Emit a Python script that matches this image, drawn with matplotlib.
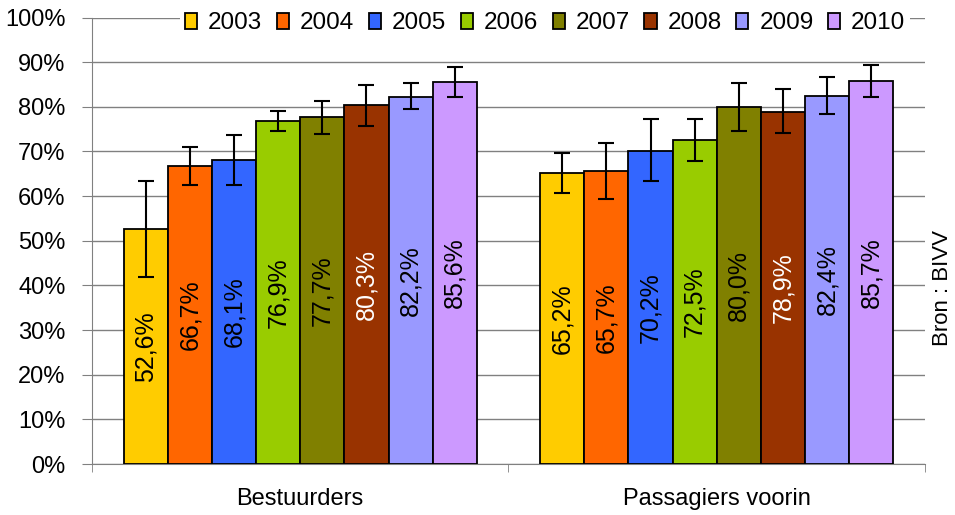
import matplotlib
matplotlib.use('Agg')
import matplotlib.pyplot as plt
import numpy as np

plt.rcParams['font.family'] = ['Liberation Sans', 'DejaVu Sans']

categories = ["Bestuurders", "Passagiers voorin"]
years = ["2003", "2004", "2005", "2006", "2007", "2008", "2009", "2010"]
colors = ["#FFCC00", "#FF6600", "#3366FF", "#99CC00", "#808000", "#993300", "#9999FF", "#CC99FF"]
label_colors = ["black", "black", "black", "black", "black", "white", "black", "black"]

# percentages per year: [Bestuurders, Passagiers voorin]
values = {
    "2003": [52.6, 65.2],
    "2004": [66.7, 65.7],
    "2005": [68.1, 70.2],
    "2006": [76.9, 72.5],
    "2007": [77.7, 80.0],
    "2008": [80.3, 78.9],
    "2009": [82.2, 82.4],
    "2010": [85.6, 85.7],
}
# confidence interval bounds
lower = {
    "2003": [41.8, 60.6],
    "2004": [62.4, 59.3],
    "2005": [62.4, 63.3],
    "2006": [74.5, 67.8],
    "2007": [74.0, 74.5],
    "2008": [75.8, 74.1],
    "2009": [79.4, 78.5],
    "2010": [82.1, 82.1],
}
upper = {
    "2003": [63.3, 69.6],
    "2004": [70.9, 71.8],
    "2005": [73.6, 77.2],
    "2006": [79.0, 77.2],
    "2007": [81.2, 85.3],
    "2008": [84.8, 83.9],
    "2009": [85.3, 86.6],
    "2010": [88.9, 89.3],
}

fig = plt.figure(figsize=(9.55, 5.15), dpi=100)
ax = fig.add_axes([0.0963, 0.099, 0.8723, 0.867])

x = np.arange(len(categories))
bw = 0.106
n = len(years)
for i, y in enumerate(years):
    pos = x + (i - (n - 1) / 2) * bw
    v = np.array(values[y])
    err = [v - np.array(lower[y]), np.array(upper[y]) - v]
    bars = ax.bar(pos, v, bw, color=colors[i], edgecolor='black', linewidth=1.3,
                  label=y, zorder=3)
    ax.errorbar(pos, v, yerr=err, fmt='none', ecolor='black', elinewidth=1.5,
                capsize=5.5, capthick=1.5, zorder=4)
    ax.bar_label(bars, labels=[f"{a:.1f}%".replace('.', ',') for a in v],
                 label_type='center', rotation=90, fontsize=18,
                 color=label_colors[i], zorder=5)

ax.set_xlim(-0.5, 1.5)
ax.set_ylim(0, 100)
ax.set_yticks(np.arange(0, 101, 10))
ax.set_yticklabels([f"{t}%" for t in range(0, 101, 10)], fontsize=17)
ax.yaxis.grid(True, color='#808080', lw=1)
ax.set_axisbelow(True)

ax.set_xticks(x)
ax.set_xticklabels(categories, fontsize=17)
ax.tick_params(axis='x', length=0, pad=17)
ax.set_xticks([-0.5, 0.5, 1.5], minor=True)
ax.tick_params(axis='x', which='minor', length=6, color='#808080')
ax.tick_params(axis='y', length=7, color='#808080', pad=12)

for s in ['top', 'right']:
    ax.spines[s].set_visible(False)
for s in ['left', 'bottom']:
    ax.spines[s].set_color('#808080')

leg = ax.legend(loc='upper right', bbox_to_anchor=(0.997, 1.05), ncol=8,
                fontsize=17.5, frameon=True, facecolor='white', edgecolor='none',
                framealpha=1, handlelength=0.5, handleheight=0.65,
                handletextpad=0.45, columnspacing=0.6, borderpad=0.2, fancybox=False)
leg.set_zorder(10)

fig.text(0.987, 0.44, "Bron : BIVV", rotation=90, fontsize=16, ha='center', va='center')

fig.savefig('out.png', dpi=100)
